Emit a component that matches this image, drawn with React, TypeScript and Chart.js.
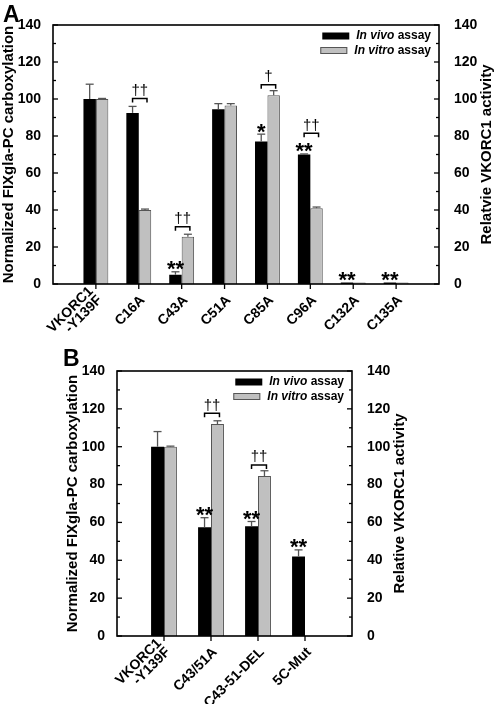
import React, { useEffect, useRef } from 'react';
import { Chart, registerables } from 'chart.js';

Chart.register(...registerables);

const FONT = '"Liberation Sans", Arial, Helvetica, sans-serif';

// ---------- Panel A data ----------
const categoriesA: (string | string[])[] = [['VKORC1', '-Y139F'], 'C16A', 'C43A', 'C51A', 'C85A', 'C96A', 'C132A', 'C135A'];
const inVivoA = [100, 92.5, 5, 94.5, 77, 70, 0.8, 0.8];
const inVivoErrA = [8, 3.5, 1.6, 3, 4, 0.3, 0, 0];
const inVitroA = [100, 40, 25.5, 96.5, 102, 41, 0.8, 0.8];
const inVitroErrA = [0.3, 0.5, 1.4, 1, 2.5, 0.6, 0, 0];
const starsA = ['', '', '**', '', '*', '**', '**', '**'];
const daggersA = ['', '††', '††', '', '†', '††', '', ''];
const bracketsA = [null, 100.3, 31, null, 107.7, 81.5, null, null];

// ---------- Panel B data ----------
const categoriesB: (string | string[])[] = [['VKORC1', '-Y139F'], 'C43/51A', 'C43-51-DEL', '5C-Mut'];
const inVivoB = [100, 57.5, 58, 42];
const inVivoErrB = [8, 5, 2.5, 3.5];
const inVitroB: (number | null)[] = [100, 112, 84.5, null];
const inVitroErrB: (number | null)[] = [0.3, 1.7, 2.8, null];
const starsB = ['', '**', '**', '**'];
const daggersB = ['', '††', '††', ''];
const bracketsB = [null, 117.7, 90.4, null];

// ---------- shared ----------
const seriesNames = ['In vivo', 'In vitro'];
const seriesSuffix = ' assay';
const yMin = 0;
const yMax = 140;
const yMinorStep = 10;
const yMajorStep = 20;
const leftTitle = 'Normalized FIXgla-PC carboxylation';
const rightTitleA = 'Relatvie VKORC1 activity';
const rightTitleB = 'Relative VKORC1 activity';

const VIVO_COLOR = '#000000';
const VITRO_COLOR = '#c0c0c0';
const VITRO_BORDER = '#555555';

type Panel = {
  letter: string;
  categories: (string | string[])[];
  vivo: (number | null)[];
  vivoErr: (number | null)[];
  vitro: (number | null)[];
  vitroErr: (number | null)[];
  stars: string[];
  daggers: string[];
  brackets: (number | null)[];
  rightTitle: string;
  // layout
  top: number;
  height: number;
  padTop: number;
  padLeft: number;
  padRight: number;
  xAxisH: number;
  catPct: number;
  letterX: number;
  letterBase: number;
  leftTitleX: number;
  rightTitleX: number;
};

const panels: Panel[] = [
  {
    letter: 'A', categories: categoriesA, vivo: inVivoA, vivoErr: inVivoErrA, vitro: inVitroA, vitroErr: inVitroErrA,
    stars: starsA, daggers: daggersA, brackets: bracketsA, rightTitle: rightTitleA,
    top: 0, height: 352, padTop: 25, padLeft: 0, padRight: 0, xAxisH: 68, catPct: 0.58,
    letterX: 3, letterBase: 21.5, leftTitleX: 12.5, rightTitleX: 491,
  },
  {
    letter: 'B', categories: categoriesB, vivo: inVivoB, vivoErr: inVivoErrB, vitro: inVitroB, vitroErr: inVitroErrB,
    stars: starsB, daggers: daggersB, brackets: bracketsB, rightTitle: rightTitleB,
    top: 340, height: 364, padTop: 31, padLeft: 64, padRight: 87, xAxisH: 68, catPct: 0.55,
    letterX: 63, letterBase: 26, leftTitleX: 76.5, rightTitleX: 404,
  },
];

function makePlugin(p: Panel) {
  return {
    id: 'annot' + p.letter,
    afterDraw(chart: any) {
      const ctx: CanvasRenderingContext2D = chart.ctx;
      const { left, right, top, bottom } = chart.chartArea;
      const xs = chart.scales.x;
      const ys = chart.scales.y;
      const line = (x1: number, y1: number, x2: number, y2: number) => {
        ctx.beginPath();
        ctx.moveTo(x1, y1);
        ctx.lineTo(x2, y2);
        ctx.stroke();
      };
      ctx.save();

      // error bars (upper only)
      ctx.strokeStyle = '#555';
      ctx.lineWidth = 1.3;
      const sets: [(number | null)[], (number | null)[]][] = [[p.vivo, p.vivoErr], [p.vitro, p.vitroErr]];
      sets.forEach(([vals, errs], d) => {
        const meta = chart.getDatasetMeta(d);
        vals.forEach((v, i) => {
          const e = errs[i];
          if (v == null || e == null || e <= 0) return;
          const bar = meta.data[i + 1];
          const y0 = ys.getPixelForValue(v);
          const y1 = ys.getPixelForValue(v + e);
          line(bar.x, y0, bar.x, y1);
          line(bar.x - 4, y1, bar.x + 4, y1);
        });
      });

      // frame
      ctx.strokeStyle = '#000';
      ctx.lineWidth = 1.6;
      ctx.strokeRect(left, top, right - left, bottom - top);

      // y ticks (inward) on both sides
      ctx.lineWidth = 1.3;
      for (let v = yMin; v <= yMax; v += yMinorStep) {
        const py = ys.getPixelForValue(v);
        const len = v % yMajorStep === 0 ? 5 : 3;
        line(left, py, left + len, py);
        line(right, py, right - len, py);
      }
      // x ticks (outward) + rotated category labels
      ctx.fillStyle = '#000';
      ctx.font = `bold 14px ${FONT}`;
      ctx.textAlign = 'right';
      ctx.textBaseline = 'middle';
      p.categories.forEach((cat, i) => {
        const px = xs.getPixelForValue(i + 1);
        line(px, bottom, px, bottom + 5);
        const lines = Array.isArray(cat) ? cat : [cat];
        ctx.save();
        ctx.translate(px + 4, bottom + 14);
        ctx.rotate(-Math.PI / 4);
        lines.forEach((t, k) => {
          ctx.fillText(t, 0, (k - (lines.length - 1)) * 12.5);
        });
        ctx.restore();
      });

      // stars above in-vivo bars
      const m0 = chart.getDatasetMeta(0);
      const m1 = chart.getDatasetMeta(1);
      ctx.textAlign = 'center';
      ctx.textBaseline = 'alphabetic';
      ctx.font = `bold 22px ${FONT}`;
      p.stars.forEach((s, i) => {
        if (!s) return;
        const v = (p.vivo[i] || 0) + (p.vivoErr[i] || 0);
        const bar = m0.data[i + 1];
        ctx.fillText(s, bar.x, ys.getPixelForValue(v) + 4.5);
      });

      // brackets + daggers
      ctx.lineWidth = 1.5;
      ctx.font = `15px ${FONT}`;
      p.brackets.forEach((b, i) => {
        if (b == null) return;
        const x1 = m0.data[i + 1].x;
        const x2 = m1.data[i + 1].x + 2;
        const py = ys.getPixelForValue(b);
        ctx.beginPath();
        ctx.moveTo(x1, py + 4);
        ctx.lineTo(x1, py);
        ctx.lineTo(x2, py);
        ctx.lineTo(x2, py + 4);
        ctx.stroke();
        if (p.daggers[i]) ctx.fillText(p.daggers[i], (x1 + x2) / 2, py - 3.5);
      });

      // legend
      const fi = `italic bold 12px ${FONT}`;
      const fn = `bold 12px ${FONT}`;
      const colors = [VIVO_COLOR, VITRO_COLOR];
      seriesNames.forEach((name, k) => {
        const cy = top + 11 + k * 14.5;
        ctx.font = fi;
        const w1 = ctx.measureText(name).width;
        ctx.font = fn;
        const w2 = ctx.measureText(seriesSuffix).width;
        const tx = right - 8 - w1 - w2;
        ctx.textAlign = 'left';
        ctx.textBaseline = 'middle';
        ctx.font = fi;
        ctx.fillText(name, tx, cy);
        ctx.font = fn;
        ctx.fillText(seriesSuffix, tx + w1, cy);
        const sx = tx - 7 - 27;
        ctx.fillStyle = colors[k];
        ctx.fillRect(sx, cy - 3.5, 27, 7);
        if (k === 1) {
          ctx.strokeStyle = VITRO_BORDER;
          ctx.lineWidth = 1;
          ctx.strokeRect(sx + 0.5, cy - 3.5 + 0.5, 26, 6);
        }
        ctx.fillStyle = '#000';
      });

      // axis titles
      const cyMid = (top + bottom) / 2;
      ctx.font = `bold 15px ${FONT}`;
      ctx.textAlign = 'center';
      ctx.textBaseline = 'alphabetic';
      ctx.save();
      ctx.translate(p.leftTitleX, cyMid);
      ctx.rotate(-Math.PI / 2);
      ctx.fillText(leftTitle, 0, 0);
      ctx.restore();
      ctx.save();
      ctx.translate(p.rightTitleX, cyMid);
      ctx.rotate(-Math.PI / 2);
      ctx.fillText(p.rightTitle, 0, 0);
      ctx.restore();

      // panel letter
      ctx.font = `bold 23px ${FONT}`;
      ctx.textAlign = 'left';
      ctx.fillText(p.letter, p.letterX, p.letterBase);

      ctx.restore();
    },
  };
}

function PanelChart({ p }: { p: Panel }) {
  const ref = useRef<HTMLCanvasElement | null>(null);
  useEffect(() => {
    if (!ref.current) return;
    const labels = ['', ...p.categories.map((c) => (Array.isArray(c) ? c.join(' ') : c)), ''];
    const pad = (a: (number | null)[]) => [null, ...a, null];
    const tickFont = { family: FONT, size: 14, weight: 'bold' as const };
    const chart = new Chart(ref.current, {
      type: 'bar',
      data: {
        labels,
        datasets: [
          {
            label: seriesNames[0] + seriesSuffix,
            data: pad(p.vivo),
            backgroundColor: VIVO_COLOR,
            borderWidth: 0,
            categoryPercentage: p.catPct,
            barPercentage: 1,
            yAxisID: 'y',
          },
          {
            label: seriesNames[1] + seriesSuffix,
            data: pad(p.vitro),
            backgroundColor: VITRO_COLOR,
            borderColor: VITRO_BORDER,
            borderWidth: 1,
            categoryPercentage: p.catPct,
            barPercentage: 1,
            yAxisID: 'y',
          },
        ],
      },
      options: {
        responsive: false,
        animation: false,
        devicePixelRatio: 1,
        layout: { padding: { top: p.padTop, left: p.padLeft, right: p.padRight, bottom: 0 } },
        plugins: { legend: { display: false }, tooltip: { enabled: false } },
        scales: {
          x: {
            type: 'category',
            offset: false,
            grid: { display: false, offset: false },
            border: { display: false },
            ticks: { display: false },
            afterFit: (s: any) => { s.height = p.xAxisH; },
          },
          y: {
            position: 'left',
            min: yMin,
            max: yMax,
            grid: { display: false },
            border: { display: false },
            ticks: {
              stepSize: yMinorStep,
              padding: 4,
              color: '#000',
              font: tickFont,
              callback: (v: any) => (Number(v) % yMajorStep === 0 ? String(v) : ''),
            },
            afterFit: (s: any) => { s.width = 53; },
          },
          y2: {
            position: 'right',
            min: yMin,
            max: yMax,
            grid: { display: false },
            border: { display: false },
            ticks: {
              stepSize: yMinorStep,
              padding: 7,
              color: '#000',
              font: tickFont,
              callback: (v: any) => (Number(v) % yMajorStep === 0 ? String(v) : ''),
            },
            afterFit: (s: any) => { s.width = 57; },
          },
        },
      } as any,
      plugins: [makePlugin(p)],
    });
    return () => chart.destroy();
  }, [p]);
  return (
    <canvas
      ref={ref}
      width={496}
      height={p.height}
      style={{ position: 'absolute', left: 0, top: p.top, width: 496, height: p.height, display: 'block' }}
    />
  );
}

export default function App() {
  return (
    <div style={{ position: 'absolute', left: 0, top: 0, width: 496, height: 704, background: '#fff', overflow: 'hidden' }}>
      {panels.map((p) => (
        <PanelChart key={p.letter} p={p} />
      ))}
    </div>
  );
}
